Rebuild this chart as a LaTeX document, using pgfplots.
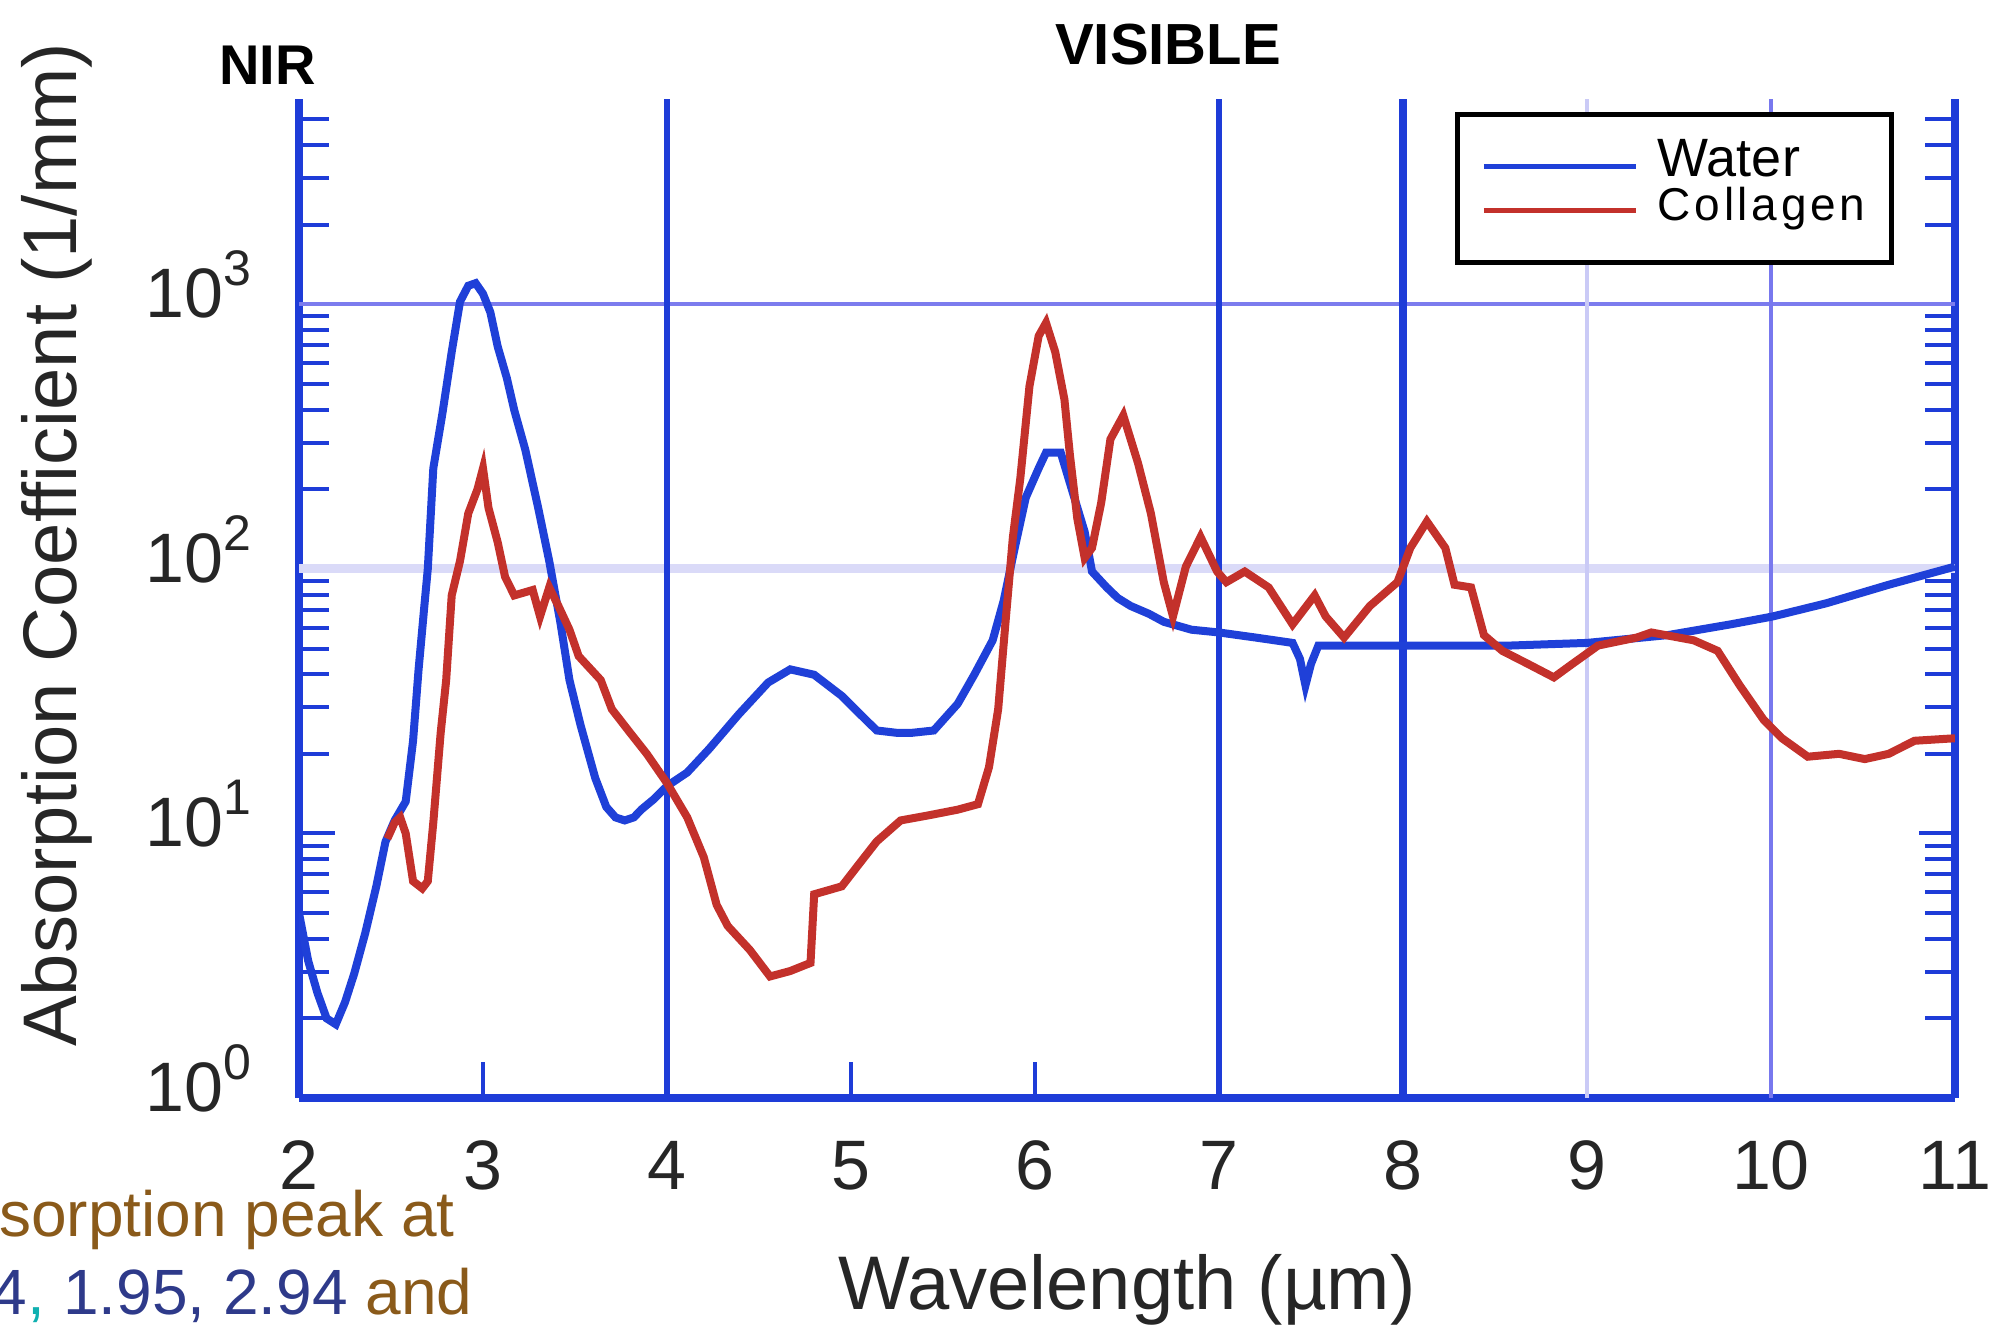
\documentclass[border=0pt]{standalone}
\usepackage{fontspec}
\setmainfont{Liberation Sans}
\usepackage{pgfplots}
\pgfplotsset{compat=1.18}
\definecolor{axblue}{HTML}{1E3CD8}
\definecolor{cblue}{HTML}{1F40D8}
\definecolor{cred}{HTML}{C3312B}
\definecolor{gridA}{HTML}{7C7CEE}
\definecolor{gridB}{HTML}{DADAF8}
\definecolor{gridC}{HTML}{CACAF6}
\definecolor{gridD}{HTML}{7878EE}
\definecolor{slidebrown}{HTML}{8A5A1A}
\definecolor{slideblue}{HTML}{2E3A8A}
\definecolor{slideteal}{HTML}{10B0B0}
\newcommand{\tenp}[1]{10\raisebox{8pt}{\fontsize{12.5}{12.5}\selectfont #1}}

\pgfplotstableread{
x y
2.00 5.0
2.05 3.3
2.10 2.5
2.15 2.0
2.20 1.9
2.25 2.3
2.30 2.95
2.36 4.2
2.42 6.3
2.47 9.3
2.52 11.2
2.58 13.2
2.62 22.4
2.65 41.7
2.68 70.8
2.70 100
2.73 240
2.78 389
2.83 661
2.875 1023
2.92 1175
2.96 1202
3.00 1096
3.04 933
3.08 692
3.13 525
3.17 398
3.23 282
3.30 170
3.36 107
3.42 63.1
3.47 38.0
3.53 25.7
3.61 16.2
3.67 12.6
3.72 11.5
3.77 11.2
3.82 11.5
3.86 12.3
3.93 13.5
4.00 15.1
4.11 17.0
4.23 20.9
4.39 28.2
4.55 37.2
4.67 41.7
4.80 39.8
4.95 33.1
5.05 28.2
5.14 24.5
5.25 24.0
5.33 24.0
5.45 24.5
5.58 30.9
5.67 39.8
5.77 53.7
5.83 75.9
5.89 120
5.95 186
6.02 240
6.06 275
6.14 275
6.20 200
6.27 138
6.31 97.7
6.39 85.1
6.45 77.6
6.52 72.4
6.62 67.6
6.70 63.1
6.85 58.9
7.00 57.5
7.20 55.0
7.40 52.5
7.44 45.7
7.47 36.3
7.50 43.7
7.54 51.3
8.00 51.3
8.30 51.3
8.58 51.3
9.00 52.5
9.44 56.2
9.78 61.7
10.01 66.1
10.30 74.1
10.64 87.1
11.00 102
}\water

\pgfplotstableread{
x y
2.48 9.55
2.52 11.0
2.55 11.5
2.58 10.0
2.62 6.6
2.67 6.2
2.70 6.6
2.73 11.0
2.77 24.0
2.80 38.0
2.83 79.4
2.875 107
2.92 162
2.97 200
3.00 240
3.03 170
3.08 126
3.12 93.3
3.17 79.4
3.27 83.2
3.31 66.1
3.36 85.1
3.41 72.4
3.47 58.9
3.52 46.8
3.64 38.0
3.70 29.5
3.80 24.0
3.89 20.0
4.00 15.5
4.11 11.5
4.20 8.13
4.27 5.37
4.33 4.47
4.45 3.63
4.56 2.88
4.67 3.02
4.78 3.24
4.80 5.89
4.95 6.31
5.05 7.76
5.14 9.33
5.27 11.2
5.42 11.7
5.58 12.3
5.69 12.9
5.75 17.8
5.80 29.5
5.84 63.1
5.88 132
5.92 219
5.97 490
6.02 759
6.06 851
6.11 661
6.16 437
6.19 269
6.23 155
6.27 110
6.31 120
6.36 178
6.41 309
6.48 380
6.56 251
6.63 162
6.70 89.1
6.75 66.1
6.82 102
6.90 132
6.99 97.7
7.04 89.1
7.14 97.7
7.27 85.1
7.40 61.7
7.52 79.4
7.58 66.1
7.68 55.0
7.82 72.4
7.97 89.1
8.04 120
8.13 151
8.23 120
8.28 87.1
8.37 85.1
8.44 56.2
8.54 49.0
8.68 43.7
8.82 38.9
8.92 43.7
9.06 51.3
9.27 55.0
9.35 57.5
9.58 53.7
9.71 49.0
9.83 36.3
9.96 26.9
10.06 22.9
10.20 19.5
10.37 20.0
10.51 19.1
10.64 20.0
10.78 22.4
11.00 22.9
}\collagen

\begin{document}
\begin{tikzpicture}
\useasboundingbox (0,0) rectangle (498.75pt,333pt);
\begin{axis}[
  at={(74.75pt,58.5pt)}, anchor=south west,
  width=414pt, height=249.75pt, scale only axis,
  xmin=2, xmax=11, ymode=log, ymin=1, ymax=5970,
  axis x line*=bottom, axis y line*=box,
  axis line style={axblue, line width=2pt},
  xtick={2,3,4,5,6,7,8,9,10,11},
  xticklabels={2,3,4,5,6,7,8,9,10,11},
  ytick={1,10,100,1000,10000},
  yticklabels={\tenp{0},\tenp{1},\tenp{2},\tenp{3},\tenp{4}},
  tick align=inside,
  major tick length=9pt, minor tick length=7.5pt,
  tick style={axblue, line width=1pt},
  tick label style={font=\fontsize{17.5}{17.5}\selectfont, text=black!85},
  xticklabel style={anchor=base, yshift=-22.8pt},
  yticklabel style={anchor=base east, yshift=-3.3pt, xshift=-8.5pt},
  xlabel={Wavelength (µm)},
  xlabel style={at={(axis description cs:0.5,-0.212)}, anchor=base, font=\fontsize{19}{19}\selectfont, inner sep=0pt, text=black!85},
  ylabel={Absorption Coefficient (1/mm)},
  ylabel style={at={(axis description cs:-0.1462,0.5538)}, anchor=center, font=\fontsize{19}{19}\selectfont, inner sep=0pt, text=black!85},
  legend style={at={(0.963,0.987)}, anchor=north east, draw=black, line width=1.2pt,
    inner xsep=6pt, inner ysep=7.5pt, row sep=0pt, column sep=4.5pt,
    nodes={inner sep=0.5pt, text height=7.5pt, text depth=2.5pt}},
  legend cell align=left,
  legend image code/.code={\draw[#1, line width=1.1pt] (0pt,0pt) -- (38pt,0pt);},
]
\draw[gridB, line width=2.2pt] (axis cs:2,100) -- (axis cs:11,100);
\draw[gridA, line width=1pt] (axis cs:2,1000) -- (axis cs:11,1000);
\draw[gridC, line width=1.2pt] (axis cs:9,1) -- (axis cs:9,5970);
\draw[gridD, line width=1pt] (axis cs:10,1) -- (axis cs:10,5970);
\draw[axblue, line width=1.7pt] (axis cs:4,1) -- (axis cs:4,5970);
\draw[axblue, line width=1.7pt] (axis cs:7,1) -- (axis cs:7,5970);
\draw[axblue, line width=1.8pt] (axis cs:8,1) -- (axis cs:8,5970);
\addplot[cblue, line width=2pt] table[x=x, y=y] {\water};
\addlegendentry{\fontsize{13.5}{13.5}\selectfont Water}
\addplot[cred, line width=2pt] table[x=x, y=y] {\collagen};
\addlegendentry{\fontsize{11.5}{11.5}\selectfont\addfontfeature{LetterSpace=8}Collagen}
\end{axis}
\node[font=\bfseries\fontsize{14}{14}\selectfont] at (66.9pt,316.75pt) {NIR};
\node[font=\bfseries\fontsize{14.5}{14.5}\selectfont] at (292pt,321.9pt) {VISIBLE};
\node[anchor=base east, font=\fontsize{16}{16}\selectfont, text=slidebrown, inner sep=0pt] at (113.9pt,24pt) {absorption peak at};
\node[anchor=base east, font=\fontsize{16}{16}\selectfont, text=slidebrown, inner sep=0pt] at (118.3pt,4.5pt) {\textcolor{slideblue}{1.44}\textcolor{slideteal}{,} \textcolor{slideblue}{1.95, 2.94} and};
\end{tikzpicture}
\end{document}
